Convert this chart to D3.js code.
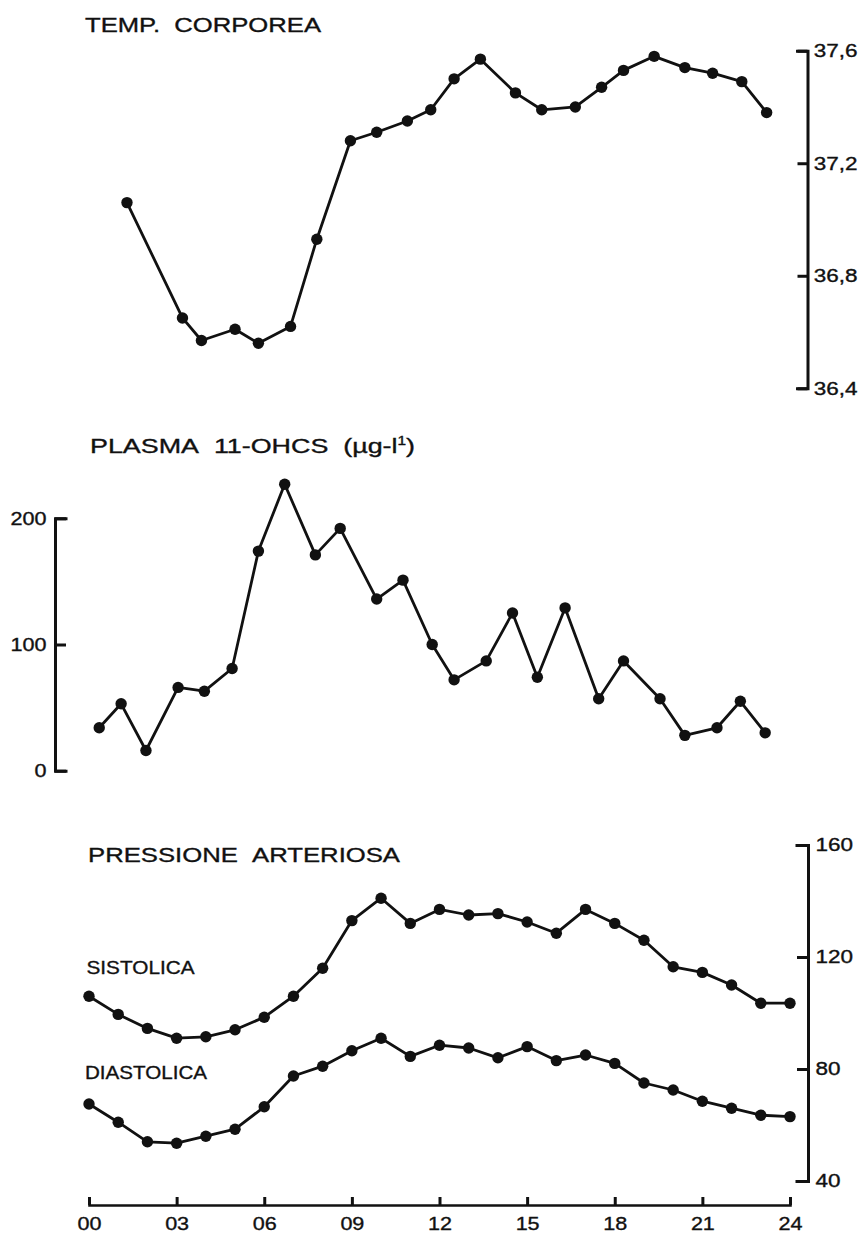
<!DOCTYPE html>
<html>
<head>
<meta charset="utf-8">
<script src="https://cdn.jsdelivr.net/npm/d3@7"></script>
<style>
  html, body { margin: 0; padding: 0; background: #fff; }
  svg { display: block; }
  text { font-family: "Liberation Sans", Arial, Helvetica, sans-serif; fill: #111; stroke: #111; stroke-width: 0.35px; }
</style>
</head>
<body>
<svg id="chart" width="861" height="1236"></svg>
<script>
// Body temperature (°C), sampled at irregular clock hours
const tempHours  = [1.3, 3.2, 3.85, 5.0, 5.8, 6.9, 7.8, 8.95, 9.85, 10.9, 11.7, 12.5, 13.4, 14.6, 15.5, 16.65, 17.55, 18.3, 19.35, 20.4, 21.35, 22.35, 23.2];
const tempValues = [37.06, 36.65, 36.57, 36.61, 36.56, 36.62, 36.93, 37.28, 37.31, 37.35, 37.39, 37.50, 37.57, 37.45, 37.39, 37.40, 37.47, 37.53, 37.58, 37.54, 37.52, 37.49, 37.38];
const tempTicks  = [36.4, 36.8, 37.2, 37.6];

// Plasma 11-OHCS (µg·l-1)
const ohcsHours  = [0.35, 1.1, 1.95, 3.05, 3.95, 4.9, 5.8, 6.7, 7.75, 8.6, 9.85, 10.75, 11.75, 12.5, 13.6, 14.5, 15.35, 16.3, 17.45, 18.3, 19.55, 20.4, 21.5, 22.3, 23.15];
const ohcsValues = [34, 53, 16, 66, 63, 81, 174, 227, 171, 192, 136, 151, 100, 72, 87, 125, 74, 129, 57, 87, 57, 28, 34, 55, 30];
const ohcsTicks  = [0, 100, 200];

// Arterial pressure (mmHg), hourly from 00 to 24
const bpHours    = d3.range(0, 25);
const systolic   = [106, 99.5, 94.5, 91, 91.5, 94, 98.5, 106, 116, 133, 141, 132, 137, 135, 135.5, 132.5, 128.5, 137, 132, 126, 116.5, 114.5, 110, 103.5, 103.5];
const diastolic  = [67.5, 61, 54, 53.5, 56, 58.5, 66.5, 77.5, 81, 86.5, 91, 84.5, 88.5, 87.5, 84, 88, 83, 85, 82, 75, 72.5, 68.5, 66, 63.5, 63];
const bpTicks    = [40, 80, 120, 160];

// Time axis
const hourTicks  = [0, 3, 6, 9, 12, 15, 18, 21, 24];
const hourLabels = ["00", "03", "06", "09", "12", "15", "18", "21", "24"];

const svg = d3.select("#chart");
const ink = "#111";

const x = d3.scaleLinear().domain([0, 24]).range([89, 790]);
const yTemp = d3.scaleLinear().domain([36.4, 37.6]).range([388.3, 50.7]);
const yOhcs = d3.scaleLinear().domain([0, 200]).range([770.7, 518.3]);
const yBp   = d3.scaleLinear().domain([40, 160]).range([1181, 845]);

// Text helper: a label stretched to a fixed width
function label(txt, x0, y0, size, width) {
  return svg.append("text")
    .attr("x", x0).attr("y", y0)
    .attr("font-size", size)
    .attr("textLength", width)
    .attr("lengthAdjust", "spacingAndGlyphs")
    .text(txt);
}

function styleAxis(g, stretch, size) {
  g.select(".domain").attr("stroke", ink).attr("stroke-width", 3).attr("stroke-linecap", "square");
  g.selectAll(".tick line").attr("stroke", ink).attr("stroke-width", 3);
  g.selectAll(".tick text")
    .attr("fill", ink)
    .attr("font-size", size)
    .attr("font-family", "Liberation Sans, Arial, sans-serif")
    .attr("transform", `scale(${stretch},1)`);
}

function series(xs, ys, yScale) {
  const pts = xs.map((h, i) => [x(h), yScale(ys[i])]);
  const g = svg.append("g");
  g.append("path")
    .attr("d", d3.line()(pts))
    .attr("fill", "none")
    .attr("stroke", ink)
    .attr("stroke-width", 2.8)
    .attr("stroke-linejoin", "round");
  g.selectAll("circle").data(pts).join("circle")
    .attr("cx", d => d[0]).attr("cy", d => d[1])
    .attr("r", 5.7).attr("fill", ink);
}

// ---- Panel 1: body temperature ----
label("TEMP.\u00A0\u00A0CORPOREA", 85, 32, 21, 236);
const axTemp = svg.append("g")
  .attr("transform", "translate(807.5,0)")
  .call(d3.axisRight(yTemp)
    .tickValues(tempTicks)
    .tickSizeInner(-10).tickSizeOuter(-10).tickPadding(5));
axTemp.selectAll(".tick text").text(d => d3.format(".1f")(d).replace(".", ","));
styleAxis(axTemp, 1.25, 18);

series(tempHours, tempValues, yTemp);

// ---- Panel 2: plasma 11-OHCS ----
const t2 = svg.append("text")
  .attr("x", 90).attr("y", 453)
  .attr("font-size", 21)
  .attr("textLength", 325)
  .attr("lengthAdjust", "spacingAndGlyphs");
t2.append("tspan").text("PLASMA\u00A0\u00A011-OHCS\u00A0\u00A0(\u00B5g-l");
t2.append("tspan").attr("font-size", 12).attr("dy", -8).text("1");
t2.append("tspan").attr("dy", 8).text(")");

const axOhcs = svg.append("g")
  .attr("transform", "translate(55,0)")
  .call(d3.axisLeft(yOhcs)
    .tickValues(ohcsTicks)
    .tickSizeInner(-11).tickSizeOuter(-11).tickPadding(7));
styleAxis(axOhcs, 1.2, 18);

series(ohcsHours, ohcsValues, yOhcs);

// ---- Panel 3: arterial pressure ----
label("PRESSIONE\u00A0\u00A0ARTERIOSA", 88, 862, 21, 312);
label("SISTOLICA", 86.5, 974, 19, 108);
label("DIASTOLICA", 85, 1079, 19, 122);

const axBp = svg.append("g")
  .attr("transform", "translate(808,0)")
  .call(d3.axisRight(yBp)
    .tickValues(bpTicks)
    .tickSizeInner(-11).tickSizeOuter(-11).tickPadding(6));
styleAxis(axBp, 1.25, 18);

series(bpHours, systolic, yBp);
series(bpHours, diastolic, yBp);

// ---- Shared time axis ----
const axX = svg.append("g")
  .attr("transform", "translate(0,1205)")
  .call(d3.axisBottom(x)
    .tickValues(hourTicks)
    .tickFormat((d, i) => hourLabels[i])
    .tickSizeInner(-8).tickSizeOuter(0).tickPadding(12));
styleAxis(axX, 1.12, 19);
axX.selectAll(".tick text").attr("transform", null)
  .attr("textLength", 24).attr("lengthAdjust", "spacingAndGlyphs");
axX.select(".domain").attr("stroke-width", 2.6);
</script>
</body>
</html>
